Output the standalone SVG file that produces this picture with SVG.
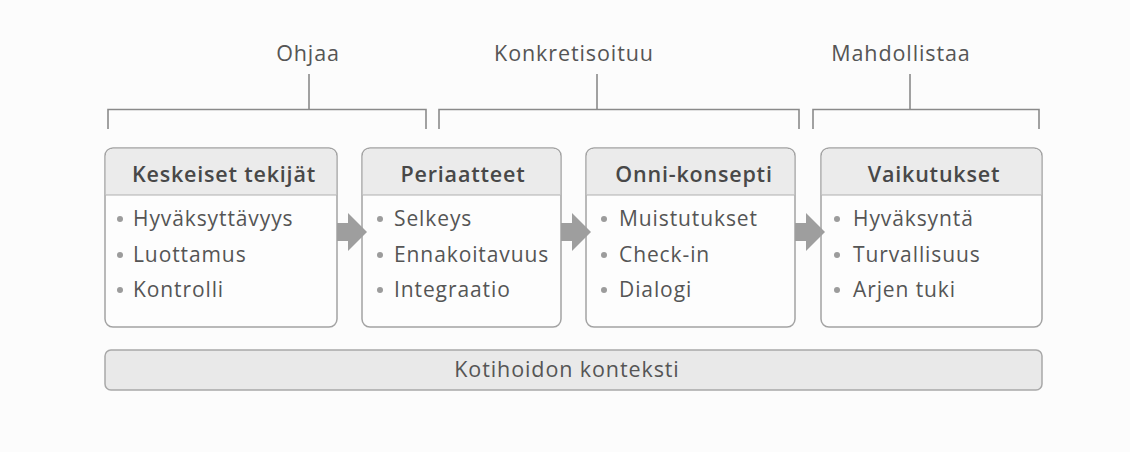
<svg xmlns="http://www.w3.org/2000/svg" width="1130" height="452" viewBox="0 0 1130 452">
<style>
.bg{fill:#fcfcfc}
.brk{fill:none;stroke:#8a8a8a;stroke-width:1.6}
.lbl{font-family:"Open Sans","Noto Sans",sans-serif;font-size:21.5px;fill:#555;letter-spacing:0.9px;text-anchor:middle}
.box{fill:#fdfdfd;stroke:#a3a3a3;stroke-width:1.5}
.hdr{fill:#ebebeb}
.sep{stroke:#b0b0b0;stroke-width:1.2}
.ttl{font-family:"Open Sans","Noto Sans",sans-serif;font-size:21.5px;font-weight:600;fill:#484848;letter-spacing:0.8px;text-anchor:middle}
.itm{font-family:"Open Sans","Noto Sans",sans-serif;font-size:21px;fill:#555;letter-spacing:0.9px}
.dot{fill:#9c9c9c}
.arr{fill:#9e9e9e}
.bar{fill:#e9e9e9;stroke:#a8a8a8;stroke-width:1.5}
.bartxt{font-family:"Open Sans","Noto Sans",sans-serif;font-size:21.5px;fill:#555;letter-spacing:0.9px;text-anchor:middle}
</style>
<rect class="bg" x="0" y="0" width="1130" height="452"/>

<g id="bracket-ohjaa">
<path class="brk" d="M108,129 V109.5 H426 V129 M309,109.5 V74"/>
<text class="lbl" x="308" y="61">Ohjaa</text>
</g>
<g id="bracket-konkretisoituu">
<path class="brk" d="M439,129 V109.5 H799 V129 M597,109.5 V74"/>
<text class="lbl" x="574" y="61">Konkretisoituu</text>
</g>
<g id="bracket-mahdollistaa">
<path class="brk" d="M813,129 V109.5 H1039 V129 M910,109.5 V74"/>
<text class="lbl" x="901" y="61">Mahdollistaa</text>
</g>

<g id="node-keskeiset">
<rect class="box" x="105" y="148" width="232" height="179" rx="8"/>
<path class="hdr" d="M113,148.75 H329 A7.25,7.25 0 0 1 336.25,156 V195 H105.75 V156 A7.25,7.25 0 0 1 113,148.75 Z"/>
<line class="sep" x1="105.75" y1="195" x2="336.25" y2="195"/>
<text class="ttl" x="224" y="182">Keskeiset tekijät</text>
<circle class="dot" cx="120" cy="219" r="3"/><text class="itm" x="133" y="226">Hyväksyttävyys</text>
<circle class="dot" cx="120" cy="255" r="3"/><text class="itm" x="133" y="262">Luottamus</text>
<circle class="dot" cx="120" cy="290" r="3"/><text class="itm" x="133" y="297">Kontrolli</text>
</g>

<g id="node-periaatteet">
<rect class="box" x="362" y="148" width="199" height="179" rx="8"/>
<path class="hdr" d="M370,148.75 H553 A7.25,7.25 0 0 1 560.25,156 V195 H362.75 V156 A7.25,7.25 0 0 1 370,148.75 Z"/>
<line class="sep" x1="362.75" y1="195" x2="560.25" y2="195"/>
<text class="ttl" x="463" y="182">Periaatteet</text>
<circle class="dot" cx="380" cy="219" r="3"/><text class="itm" x="394" y="226">Selkeys</text>
<circle class="dot" cx="380" cy="255" r="3"/><text class="itm" x="394" y="262">Ennakoitavuus</text>
<circle class="dot" cx="380" cy="290" r="3"/><text class="itm" x="394" y="297">Integraatio</text>
</g>

<g id="node-onni">
<rect class="box" x="586" y="148" width="209" height="179" rx="8"/>
<path class="hdr" d="M594,148.75 H787 A7.25,7.25 0 0 1 794.25,156 V195 H586.75 V156 A7.25,7.25 0 0 1 594,148.75 Z"/>
<line class="sep" x1="586.75" y1="195" x2="794.25" y2="195"/>
<text class="ttl" x="694" y="182">Onni-konsepti</text>
<circle class="dot" cx="604" cy="219" r="3"/><text class="itm" x="619" y="226">Muistutukset</text>
<circle class="dot" cx="604" cy="255" r="3"/><text class="itm" x="619" y="262">Check-in</text>
<circle class="dot" cx="604" cy="290" r="3"/><text class="itm" x="619" y="297">Dialogi</text>
</g>

<g id="node-vaikutukset">
<rect class="box" x="821" y="148" width="221" height="179" rx="8"/>
<path class="hdr" d="M829,148.75 H1034 A7.25,7.25 0 0 1 1041.25,156 V195 H821.75 V156 A7.25,7.25 0 0 1 829,148.75 Z"/>
<line class="sep" x1="821.75" y1="195" x2="1041.25" y2="195"/>
<text class="ttl" x="934" y="182">Vaikutukset</text>
<circle class="dot" cx="837" cy="219" r="3"/><text class="itm" x="853" y="226">Hyväksyntä</text>
<circle class="dot" cx="837" cy="255" r="3"/><text class="itm" x="853" y="262">Turvallisuus</text>
<circle class="dot" cx="837" cy="290" r="3"/><text class="itm" x="853" y="297">Arjen tuki</text>
</g>

<g id="connectors">
<polygon class="arr" points="337,223 348,223 348,213 367,232 348,251 348,241 337,241"/>
<polygon class="arr" points="561,223 572,223 572,213 591,232 572,251 572,241 561,241"/>
<polygon class="arr" points="795,223 806,223 806,213 825,232 806,251 806,241 795,241"/>
</g>

<g id="context-bar">
<rect class="bar" x="105" y="350" width="937" height="40" rx="6"/>
<text class="bartxt" x="567" y="377">Kotihoidon konteksti</text>
</g>
</svg>
